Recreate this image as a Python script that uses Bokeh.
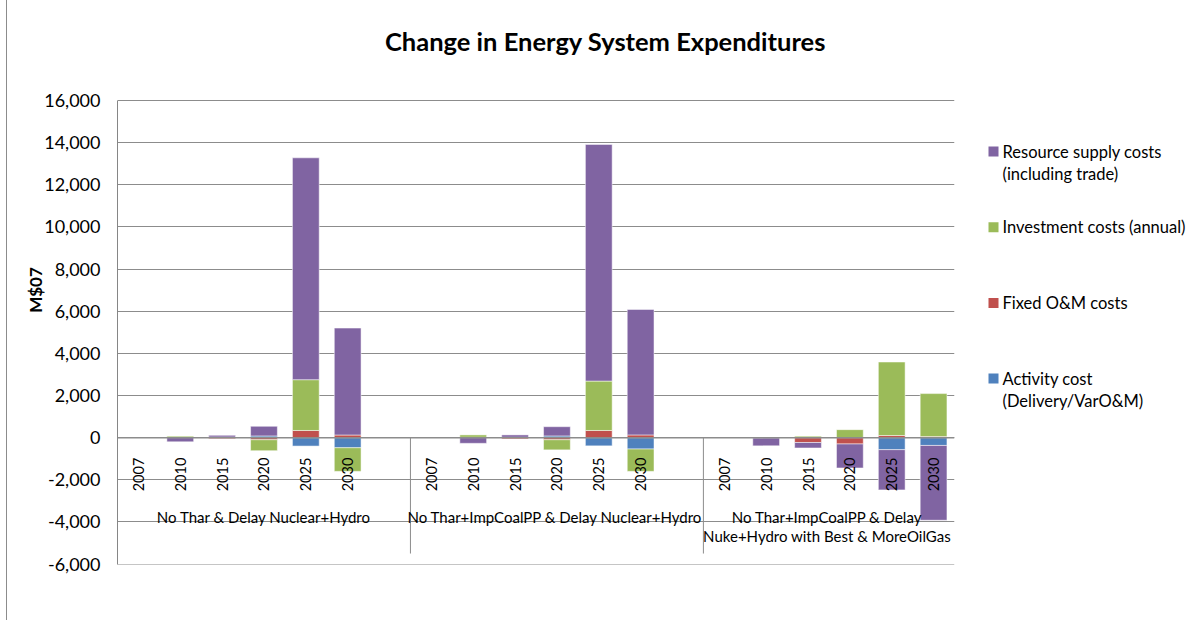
import numpy as np
from bokeh.plotting import figure
from bokeh.models import Range1d, NumeralTickFormatter, FixedTicker, Span, ColumnDataSource, Div
from bokeh.layouts import row
from bokeh.embed import file_html
from bokeh.resources import INLINE
from bokeh.core.properties import value

# ---------------- data ----------------
chart_title = "Change in Energy System Expenditures"
y_label = "M$07"
years = ["2007", "2010", "2015", "2020", "2025", "2030"]
groups = [
    "No Thar & Delay Nuclear+Hydro",
    "No Thar+ImpCoalPP  & Delay Nuclear+Hydro",
    "No Thar+ImpCoalPP  & Delay\nNuke+Hydro  with Best & MoreOilGas",
]
group_slots = [7, 7, 6]  # six years plus one blank spacer column (none after the last group)

series_names = [
    "Activity cost\n(Delivery/VarO&M)",
    "Fixed O&M costs",
    "Investment costs (annual)",
    "Resource supply costs\n(including trade)",
]
series_colors = ["#4F81BD", "#C0504D", "#9BBB59", "#8064A2"]

# values per group, per year (2007..2030)
activity = [
    [0, 0, 30, 80, -400, -480],
    [0, 0, 20, 80, -390, -540],
    [0, -20, 0, 0, -570, -370],
]
fixed_om = [
    [0, 10, -50, -100, 340, 125],
    [0, 20, -60, -100, 340, 130],
    [0, 0, -230, -300, 100, 50],
]
investment = [
    [0, 60, 0, -520, 2410, -1120],
    [0, 110, 0, -480, 2345, -1060],
    [0, 0, 70, 380, 3490, 2040],
]
resource = [
    [0, -200, 80, 460, 10530, 5075],
    [0, -270, 110, 440, 11230, 5955],
    [0, -370, -260, -1140, -1910, -3550],
]
y_ticks = list(range(-6000, 16001, 2000))
y_min, y_max = -6000, 16000

# ---------------- positions / layout ----------------
offsets = np.concatenate([[0], np.cumsum(group_slots)[:-1]])
n_slots = int(sum(group_slots))
xs = np.array([offsets[g] + j + 0.5 for g in range(len(groups)) for j in range(len(years))])
year_text = [y for g in range(len(groups)) for y in years]

FONT = "Lato"
EDGE_W = 8
MAIN_W, LEG_W, H = 957, 228, 620
PLOT_L, PLOT_R, PLOT_T, PLOT_B = 118, 955, 100, 564   # plot area (16,000 .. -6,000)
FRAME_T = 15                                          # frame extends above the plot area to hold the title
Y0 = y_min - 20
px_per_y = (PLOT_B - PLOT_T) / (y_max - Y0)
Y_TOP = y_max + (PLOT_T - FRAME_T) / px_per_y
px_per_x = (PLOT_R - PLOT_L) / n_slots

p = figure(
    width=MAIN_W, height=H, title=None,
    x_range=Range1d(0, n_slots), y_range=Range1d(Y0, Y_TOP),
    x_axis_location=None,
    output_backend="svg", toolbar_location=None,
    min_border_left=PLOT_L - EDGE_W, min_border_right=EDGE_W + MAIN_W - PLOT_R,
    min_border_top=FRAME_T, min_border_bottom=H - PLOT_B,
)
p.outline_line_color = None
p.background_fill_color = "white"
p.border_fill_color = "white"

# grid
p.xgrid.visible = False
p.ygrid.ticker = FixedTicker(ticks=y_ticks)
p.ygrid.grid_line_color = "#8c8c8c"
p.ygrid.grid_line_width = 1

# y axis
ax = p.yaxis[0]
ax.ticker = FixedTicker(ticks=y_ticks)
ax.bounds = (y_min, y_max)
ax.formatter = NumeralTickFormatter(format="0,0")
ax.major_label_text_font = FONT
ax.major_label_text_font_size = "18px"
ax.major_label_text_color = "black"
ax.axis_line_color = "#868686"
ax.major_tick_out = 0
ax.major_tick_in = 0
ax.minor_tick_out = 0
ax.minor_tick_in = 0
ax.major_label_standoff = 17
ax.axis_label = y_label
ax.axis_label_text_font = FONT
ax.axis_label_text_font_size = "17px"
ax.axis_label_text_font_style = "bold"
ax.axis_label_text_color = "black"
ax.axis_label_standoff = -5

# title, drawn inside the (extended) frame above the plot area
title_cx, title_cy = 606, 40
p.text(x=[(title_cx - PLOT_L) / px_per_x], y=[y_max + (PLOT_T - title_cy) / px_per_y],
       text=[chart_title], text_align="center", text_baseline="middle",
       text_font=value(FONT), text_font_size="25.5px", text_font_style="bold",
       text_color="black")

# stacked bars
stack = [activity, fixed_om, investment, resource]
pos_base = np.zeros(len(xs))
neg_base = np.zeros(len(xs))
for vals, color, name in zip(stack, series_colors, series_names):
    v = np.array(vals, dtype=float).ravel()
    bottom = np.where(v >= 0, pos_base, neg_base)
    top = bottom + v
    pos_base = np.where(v >= 0, top, pos_base)
    neg_base = np.where(v < 0, top, neg_base)
    src = ColumnDataSource(dict(x=xs, bottom=bottom, top=top))
    p.vbar(x="x", bottom="bottom", top="top", width=0.64, source=src,
           fill_color=color, line_color="white", line_alpha=0.5, line_width=1)

# zero (category) axis line over the bars
p.add_layout(Span(location=0, dimension="width", line_color="#8c8c8c", line_width=1.5))

# group separators
seps = np.cumsum(group_slots)[:-1]
p.segment(x0=seps, y0=0, x1=seps, y1=-5500, line_color="#8c8c8c", line_width=1)

# year labels (rotated), drawn on top of bars
p.text(x=xs, y=-950, text=year_text, angle=np.pi / 2,
       text_align="right", text_baseline="middle",
       text_font=value(FONT), text_font_size="14.5px", text_color="black")

# group labels
gx = offsets + np.array(group_slots) / 2.0
p.text(x=gx, y=-3350, text=groups, text_align="center", text_baseline="top",
       text_font=value(FONT), text_font_size="15px", text_color="black",
       text_line_height=1.05)

# ---------------- legend panel (frame aligned with the main frame) ----------------
leg_x0 = EDGE_W + MAIN_W
leg = figure(
    width=LEG_W, height=H, title=None,
    x_range=Range1d(leg_x0, leg_x0 + LEG_W), y_range=Range1d(PLOT_B, FRAME_T),
    x_axis_location=None, y_axis_location=None,
    output_backend="svg", toolbar_location=None,
    min_border_left=0, min_border_right=0,
    min_border_top=FRAME_T, min_border_bottom=H - PLOT_B,
)
leg.outline_line_color = None
leg.xgrid.visible = False
leg.ygrid.visible = False

order = list(range(len(series_names)))[::-1]
ly = 151 + 75.7 * np.arange(len(order))
leg.rect(x=994, y=ly, width=10, height=10,
         fill_color=[series_colors[i] for i in order], line_color=None)
leg.text(x=1003, y=ly - 10, text=[series_names[i] for i in order],
         text_align="left", text_baseline="top",
         text_font=value(FONT), text_font_size="16.5px", text_color="black",
         text_line_height=1.1)

# chart-area left border
edge = Div(text="", width=EDGE_W - 1, height=H, margin=0,
           styles={"border-right": "1px solid #8c8c8c"})

layout = row(edge, p, leg, spacing=0)
open("out.html", "w").write(file_html(layout, INLINE))
